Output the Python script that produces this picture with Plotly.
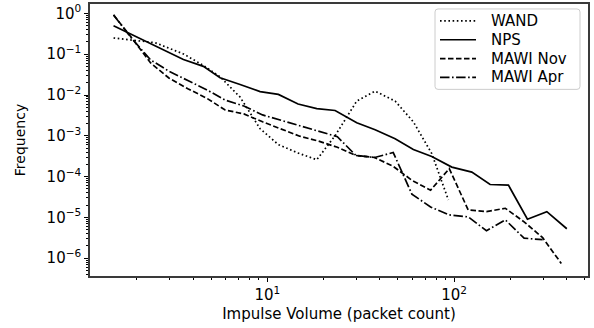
import plotly.graph_objects as go

# ---- data ----
wand_x = [1.5, 2.0, 2.5, 3.55, 4.54, 5.58, 7.14, 9.14, 11.45, 14.6, 18.39, 23.05, 30.1, 37.75, 48.3, 60.5, 75.9, 93.2]
wand_y = [0.250, 0.215, 0.192, 0.1017, 0.0532, 0.02796, 0.00889, 0.001487, 0.000608, 0.000378, 0.000259,
          0.001006, 0.00711, 0.01244, 0.00711, 0.0022, 0.000368, 2.66e-5]

nps_x = [1.5, 3.55, 4.54, 5.58, 7.14, 9.14, 11.45, 14.6, 18.39, 23.05, 30.1, 37.75, 48.3, 60.5, 75.9,
         97.2, 124.4, 155.9, 195.4, 247, 313.7, 401.4]
nps_y = [0.497, 0.0744, 0.0503, 0.02644, 0.01809, 0.01209, 0.01034, 0.00601, 0.00462, 0.00418, 0.00208,
         0.001406, 0.00085, 0.00046, 0.000311, 0.000171, 0.000129, 6.39e-5, 6.15e-5, 9.04e-6, 1.38e-5, 5.26e-6]

mawi_x = [1.5, 1.88, 2.37, 2.98, 3.75, 4.72, 5.94, 7.48, 9.42, 11.9, 14.9, 18.8, 23.7, 29.8, 37.5,
          47.2, 59.4, 74.8, 94.2, 119, 149, 188, 237, 298, 375]
mawi_nov_y = [0.92, 0.25, 0.0611, 0.0257, 0.0143, 0.00841, 0.0043, 0.00344, 0.0022, 0.001487, 0.000978,
              0.00074, 0.000523, 0.000329, 0.000294, 0.000178, 8.13e-5, 4.65e-5, 0.0001564, 1.52e-5,
              1.383e-5, 1.672e-5, 7.78e-6, 3.18e-6, 7.43e-7]
mawi_apr_y = [0.92, 0.2406, 0.0723, 0.038, 0.02262, 0.01352, 0.00752, 0.00538, 0.00325, 0.002378, 0.001739,
              0.001279, 0.000951, 0.000329, 0.000294, 0.000389, 3.72e-5, 1.8e-5, 1.15e-5, 1.028e-5,
              4.7e-6, 8.7e-6, 3.09e-6, 2.84e-6, None]

series_names = ["WAND", "NPS", "MAWI Nov", "MAWI Apr"]

y_tick_vals = [1e-6, 1e-5, 1e-4, 1e-3, 1e-2, 1e-1, 1]
y_tick_text = ["10<sup>\u22126</sup>", "10<sup>\u22125</sup>", "10<sup>\u22124</sup>", "10<sup>\u22123</sup>",
               "10<sup>\u22122</sup>", "10<sup>\u22121</sup>", "10<sup>0</sup>"]
x_tick_vals = [10, 100]
x_tick_text = ["10<sup>1</sup>", "10<sup>2</sup>"]

FONT = "DejaVu Sans"
LW = 1.7
DASHES = ["1.6px,2.6px", "solid", "5.5px,2.5px", "9.5px,2.5px,1.6px,2.5px"]

minor_y = [m * 10.0 ** e for e in range(-7, 1) for m in range(2, 10)]
minor_x = [m * 10.0 ** e for e in range(0, 3) for m in range(2, 10)]

fig = go.Figure()
for name, xs, ys, dash in [("WAND", wand_x, wand_y, DASHES[0]),
                           ("NPS", nps_x, nps_y, DASHES[1]),
                           ("MAWI Nov", mawi_x, mawi_nov_y, DASHES[2]),
                           ("MAWI Apr", mawi_x, mawi_apr_y, DASHES[3])]:
    fig.add_trace(go.Scatter(x=xs, y=ys, mode="lines", name=name, showlegend=False,
                             line=dict(color="black", width=LW, dash=dash)))

axis_common = dict(type="log", showgrid=False, zeroline=False, showline=True, mirror=True,
                   linecolor="#3a3a3a", linewidth=1.6, ticks="outside", ticklen=4, tickwidth=1,
                   tickcolor="black", tickfont=dict(family=FONT, size=15, color="black"))

fig.update_xaxes(**axis_common, range=[0.05, 2.717], tickmode="array",
                 tickvals=x_tick_vals, ticktext=x_tick_text,
                 minor=dict(ticks="outside", ticklen=2, tickwidth=1, tickcolor="black",
                            tickmode="array", tickvals=minor_x, showgrid=False),
                 title=dict(text="Impulse Volume (packet count)", standoff=6,
                            font=dict(family=FONT, size=15, color="black")))
fig.update_yaxes(**axis_common, range=[-6.437, 0.231], tickmode="array",
                 tickvals=y_tick_vals, ticktext=y_tick_text,
                 minor=dict(ticks="outside", ticklen=2, tickwidth=1, tickcolor="black",
                            tickmode="array", tickvals=minor_y, showgrid=False),
                 title=dict(text="Frequency", standoff=18,
                            font=dict(family=FONT, size=14, color="black")))

# ---- legend box (matplotlib style), positioned in paper coordinates ----
PL, PR, PT, PB = 90.0, 588.0, 2.0, 276.0   # plot-area pixels


def px_x(p):
    return (p - PL) / (PR - PL)


def px_y(p):
    return (PB - p) / (PB - PT)


bx0, bx1, by0, by1, r = 435.0, 580.0, 7.0, 88.0, 3.0
path = (f"M{px_x(bx0 + r)},{px_y(by0)} L{px_x(bx1 - r)},{px_y(by0)} "
        f"Q{px_x(bx1)},{px_y(by0)} {px_x(bx1)},{px_y(by0 + r)} "
        f"L{px_x(bx1)},{px_y(by1 - r)} Q{px_x(bx1)},{px_y(by1)} {px_x(bx1 - r)},{px_y(by1)} "
        f"L{px_x(bx0 + r)},{px_y(by1)} Q{px_x(bx0)},{px_y(by1)} {px_x(bx0)},{px_y(by1 - r)} "
        f"L{px_x(bx0)},{px_y(by0 + r)} Q{px_x(bx0)},{px_y(by0)} {px_x(bx0 + r)},{px_y(by0)} Z")
shapes = [dict(type="path", xref="paper", yref="paper", path=path,
               line=dict(color="#cccccc", width=1), fillcolor="rgba(255,255,255,0.9)", layer="above")]
annotations = []
row_y = [19.0, 38.0, 57.0, 76.0]
for name, dash, ry in zip(series_names, DASHES, row_y):
    shapes.append(dict(type="line", xref="paper", yref="paper",
                       x0=px_x(440), x1=px_x(476), y0=px_y(ry), y1=px_y(ry),
                       line=dict(color="black", width=LW, dash=dash), layer="above"))
    annotations.append(dict(xref="paper", yref="paper", x=px_x(489), y=px_y(ry),
                            xanchor="left", yanchor="middle", text=name, showarrow=False,
                            font=dict(family=FONT, size=15, color="black")))

fig.update_layout(
    width=594, height=328,
    margin=dict(l=90, r=6, t=2, b=52),
    paper_bgcolor="white", plot_bgcolor="white",
    font=dict(family=FONT, size=15, color="black"),
    showlegend=False,
    shapes=shapes,
    annotations=annotations,
)

fig.write_html("out.html")
